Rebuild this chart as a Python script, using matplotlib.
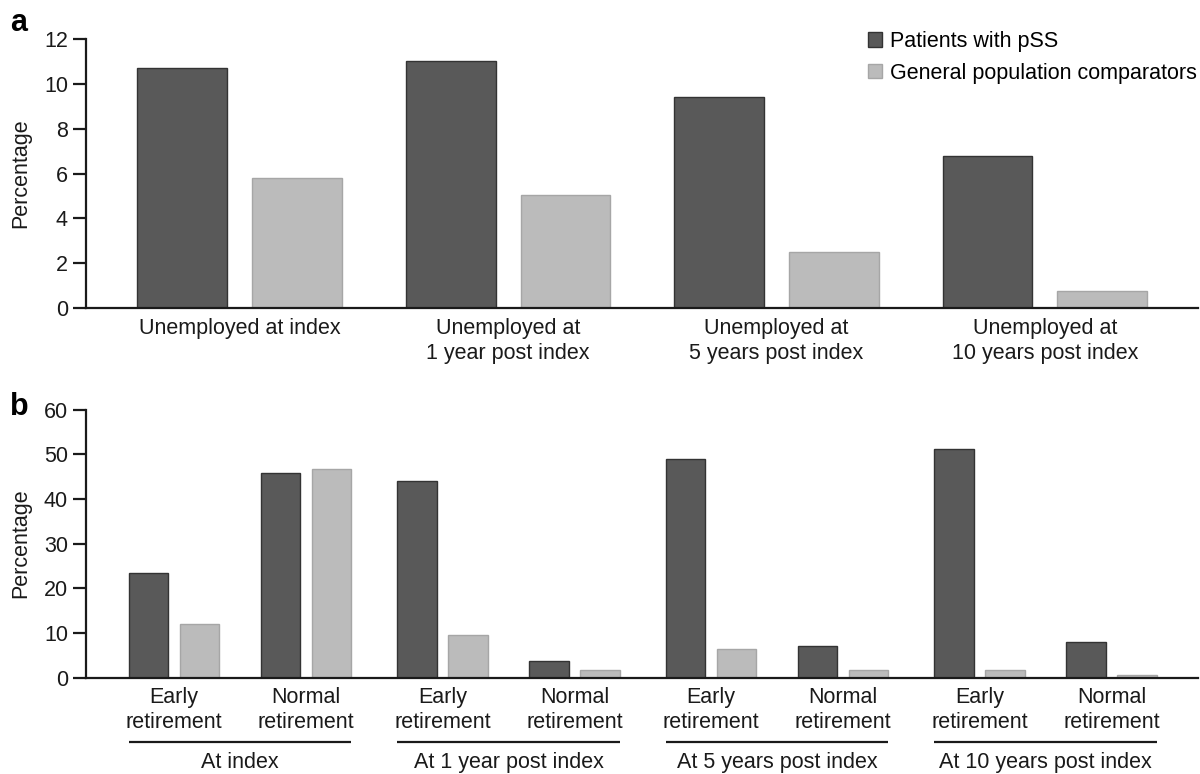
import numpy as np
import matplotlib
matplotlib.use("Agg")
import matplotlib.pyplot as plt
from matplotlib.patches import Patch

plt.rcParams['font.family'] = ['Liberation Sans', 'DejaVu Sans']

# panel a data
a_labels = ["Unemployed at index", "Unemployed at\n1 year post index",
            "Unemployed at\n5 years post index", "Unemployed at\n10 years post index"]
a_pss = [10.7, 11.0, 9.4, 6.8]
a_gen = [5.8, 5.05, 2.5, 0.75]

# panel b data
b_groups = ["At index", "At 1 year post index", "At 5 years post index", "At 10 years post index"]
b_sub = ["Early\nretirement", "Normal\nretirement"]
b_pss = [23.4, 45.9, 43.9, 3.7, 49.0, 7.0, 51.2, 7.9]
b_gen = [12.0, 46.8, 9.6, 1.8, 6.4, 1.8, 1.8, 0.7]

series_names = ["Patients with pSS", "General population comparators"]

DARK = "#595959"
LIGHT = "#bbbbbb"
DARK_EDGE = "#333333"
LIGHT_EDGE = "#a6a6a6"
FS = 15.5

fig = plt.figure(figsize=(12, 7.74), dpi=100)
ax_a = fig.add_axes([86/1200, 1 - 308/774, 1112/1200, 269/774])
ax_b = fig.add_axes([86/1200, 1 - 677.7/774, 1112/1200, 268.2/774])


def style(ax):
	for s in ['top', 'right']:
		ax.spines[s].set_visible(False)
	for s in ['left', 'bottom']:
		ax.spines[s].set_linewidth(1.6)
		ax.spines[s].set_color('#1a1a1a')
	ax.tick_params(axis='y', length=9.5, width=1.6, pad=3.5, labelsize=FS, colors='#1a1a1a')
	ax.tick_params(axis='x', length=0, pad=7, labelsize=FS, colors='#1a1a1a')
	ax.set_ylabel("Percentage", fontsize=FS, color='#1a1a1a')
	ax.yaxis.set_label_coords(-0.0495, 0.5)


# ---- panel a
xa = np.arange(len(a_labels))
off_a = 0.214
w_a = 0.335
ax_a.bar(xa - off_a, a_pss, w_a, color=DARK, edgecolor=DARK_EDGE, linewidth=1)
ax_a.bar(xa + off_a, a_gen, w_a, color=LIGHT, edgecolor=LIGHT_EDGE, linewidth=1)
ax_a.set_xlim(-0.572, 3.57)
ax_a.set_ylim(0, 12)
ax_a.set_yticks(range(0, 13, 2))
ax_a.set_xticks(xa)
ax_a.set_xticklabels(a_labels, linespacing=1.25)
style(ax_a)

# ---- panel b
pos = []
for g in range(len(b_groups)):
	for k in range(len(b_sub)):
		pos.append(g * 2.035 + k)
pos = np.array(pos)
off_b = 0.193
w_b = 0.30
ax_b.bar(pos - off_b, b_pss, w_b, color=DARK, edgecolor=DARK_EDGE, linewidth=1)
ax_b.bar(pos + off_b, b_gen, w_b, color=LIGHT, edgecolor=LIGHT_EDGE, linewidth=1)
ax_b.set_xlim(-0.667, 7.76)
ax_b.set_ylim(0, 60)
ax_b.set_yticks(range(0, 61, 10))
ax_b.set_xticks(pos)
ax_b.set_xticklabels(b_sub * len(b_groups), linespacing=1.25)
style(ax_b)

# group underlines + labels
trans = ax_b.get_xaxis_transform()
for g, name in enumerate(b_groups):
	x0 = pos[2 * g] - off_b - w_b / 2
	x1 = pos[2 * g + 1] + off_b + w_b / 2
	ax_b.plot([x0, x1], [-0.24, -0.24], transform=trans, color='#1a1a1a',
	          linewidth=1.6, clip_on=False, solid_capstyle='butt')
	ax_b.text((x0 + x1) / 2, -0.277, name, transform=trans, ha='center', va='top',
	          fontsize=FS, color='#1a1a1a')

# panel letters
fig.text(10/1200, 1 - 8/774, "a", fontsize=22, fontweight='bold', va='top', ha='left')
fig.text(10/1200, 1 - 392/774, "b", fontsize=22, fontweight='bold', va='top', ha='left')

handles = [Patch(facecolor=DARK, edgecolor=DARK_EDGE, linewidth=1),
           Patch(facecolor=LIGHT, edgecolor=LIGHT_EDGE, linewidth=1)]
fig.legend(handles, series_names, loc='upper left', bbox_to_anchor=(868/1200, 1 - 31/774),
           frameon=False, fontsize=FS, handlelength=0.65, handleheight=0.65,
           handletextpad=0.35, labelspacing=0.5, borderpad=0, borderaxespad=0)

fig.savefig("out.png", dpi=100)
